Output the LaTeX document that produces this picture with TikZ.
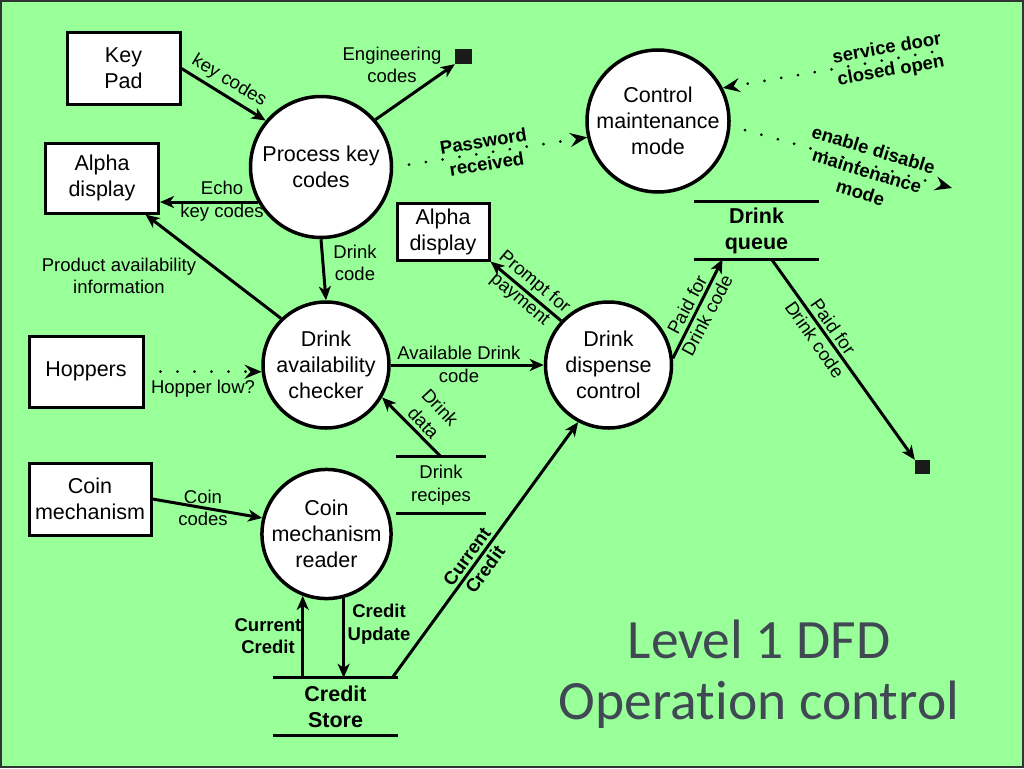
\documentclass[tikz,border=0pt]{standalone}
\usepackage{fontspec}
\setmainfont{Liberation Sans}
\newfontfamily\titlefont[Ligatures=NoCommon]{Carlito}
\usetikzlibrary{arrows.meta,calc}
\definecolor{bggreen}{RGB}{153,255,153}
\definecolor{titlegray}{RGB}{64,72,84}
\definecolor{sinkblack}{RGB}{26,26,26}
\newcommand\nodefs{\fontsize{21.5pt}{26pt}\selectfont}
\newcommand\lblfs{\fontsize{18.5pt}{22.5pt}\selectfont}
\begin{document}
\begin{tikzpicture}[x=1pt,y=-1pt,
  entity/.style={draw, line width=3pt, fill=white, inner sep=0pt, align=center, font=\nodefs},
  proc/.style={draw, circle, line width=3.5pt, fill=white, inner sep=0pt, align=center, font=\nodefs},
  store/.style={inner sep=0pt, align=center},
  sinkbox/.style={fill=sinkblack, inner sep=0pt},
  flow/.style={line width=3pt, -{Stealth[length=14pt,width=12pt,inset=4pt]}},
  dflow/.style={line width=3pt, line cap=round, dash pattern=on 0pt off 17pt, -{Stealth[length=17pt,width=14pt,inset=6pt]}},
  lbl/.style={font=\lblfs, align=center, inner sep=0pt},
  blbl/.style={font=\lblfs\bfseries, align=center, inner sep=0pt},
  storeline/.style={line width=3pt}
]
\useasboundingbox (0,0) rectangle (1024,768);
\fill[bggreen] (0,0) rectangle (1024,768);
\draw[line width=2pt, black!80] (1,1) rectangle (1023,767);

% external entities
\node[entity, minimum width=113pt, minimum height=71pt] (kp) at (123.5,68.5) {Key\\Pad};
\node[entity, minimum width=113pt, minimum height=70pt] (ad1) at (102,178) {Alpha\\display};
\node[entity, minimum width=92pt, minimum height=57pt] (ad2) at (443,231.5) {Alpha\\display};
\node[entity, minimum width=114pt, minimum height=71pt] (hop) at (86,371.5) {Hoppers};
\node[entity, minimum width=122pt, minimum height=72pt] (coin) at (90,499) {Coin\\mechanism};

% processes
\node[proc, minimum size=141pt] (pk) at (321,167) {Process key\\codes};
\node[proc, minimum size=142pt] (cm) at (658,121) {Control\\maintenance\\mode};
\node[proc, minimum size=126pt] (dac) at (326,365) {Drink\\availability\\checker};
\node[proc, minimum size=126pt] (dd) at (608.5,365) {Drink\\dispense\\control};
\node[proc, minimum size=126pt] (cmr) at (326.5,534) {Coin\\mechanism\\reader};

% data stores
\node[store, font=\nodefs\bfseries, minimum width=125pt, minimum height=57pt] (dq) at (756.5,230.5) {Drink\\queue};
\node[store, font=\lblfs, minimum width=90pt, minimum height=56pt] (dr) at (441,485) {Drink\\recipes};
\node[store, font=\nodefs\bfseries, minimum width=125pt, minimum height=57pt] (cs) at (335.5,706.5) {Credit\\Store};
\foreach \s in {dq,dr,cs}{
  \draw[storeline] (\s.north west) -- (\s.north east);
  \draw[storeline] (\s.south west) -- (\s.south east);
}

% sinks
\node[sinkbox, minimum width=17pt, minimum height=15pt] (eng) at (463.5,56.5) {};
\node[sinkbox, minimum width=15pt, minimum height=14pt] (sk) at (922.5,467) {};

% free ends
\coordinate (sdoor) at (932,52);
\coordinate (enab) at (952,188);

% connectors
\draw[flow] (kp.east) -- (pk.140);
\node[lbl, rotate=-31] (lkc) at (229,81) {key codes};

\draw[flow] (pk.41) -- (eng.south west);
\node[lbl] (leng) at (392,65) {Engineering\\codes};

\draw[flow] (pk.209.5) -- (pk.209.5 -| ad1.east);
\node[lbl] (lecho) at (222,201) {Echo\\key codes};

\draw[flow] (dac.134) -- (ad1.-40);
\node[lbl] (lprod) at (119,276) {Product availability\\information};

\draw[flow] (pk.south) -- (dac.north);
\node[lbl] (ldc) at (355,263) {Drink\\code};

\draw[dflow, shorten <=16pt] (pk.east) -- (cm.193);
\node[blbl, rotate=9] (lpw) at (485,152.5) {Password\\received};

\draw[dflow] (sdoor) -- (cm.27);
\node[blbl, rotate=10] (lsd) at (889,60) {service door\\closed open};

\draw[dflow, shorten <=15pt] (cm.-4) -- (enab);
\node[blbl, rotate=-17] (len) at (867,171) {enable disable\\maintenance\\mode};

\draw[flow] (dac.east) -- (dd.west);
\node[lbl] (lad) at (459,364.5) {Available Drink\\code};

\draw[dflow, shorten <=16pt] (hop.east) -- (dac.186);
\node[lbl] (lhl) at (203,389) {Hopper low?};

\draw[flow] (dr.north) -- (dac.-30);
\node[lbl, rotate=-47] (ldd) at (432,415) {Drink\\data};

\draw[flow] (dd.137) -- (ad2.south east);
\node[lbl, rotate=-40] (lpp) at (527,291) {Prompt for\\payment};

\draw[flow] (dd.6) -- ($(dq.south)+(-34,0)$);
\node[lbl, rotate=62] (lpd1) at (697,310) {Paid for\\Drink code};

\draw[flow] ($(dq.south)+(15,0)$) -- (sk.north west);
\node[lbl, rotate=-55] (lpd2) at (824,333) {Paid for\\Drink code};

\draw[flow] (coin.east) -- (cmr.166);
\node[lbl] (lcc) at (203,508) {Coin\\codes};

\draw[flow] (cmr.249 |- cs.north) -- (cmr.249);
\node[blbl] (lcur) at (268,636) {Current\\Credit};

\draw[flow] (cmr.-75) -- (cmr.-75 |- cs.north);
\node[blbl] (lcu) at (379,624) {Credit\\Update};

\draw[flow] ($(cs.north east)+(-6,0)$) -- (dd.242);
\node[blbl, rotate=54] (lcur2) at (476,563) {Current\\Credit};

% title
\node[font=\titlefont\fontsize{55.5pt}{61pt}\selectfont, text=titlegray, align=center] (title) at (759,674) {Level 1 DFD\\Operation control};
\end{tikzpicture}
\end{document}
